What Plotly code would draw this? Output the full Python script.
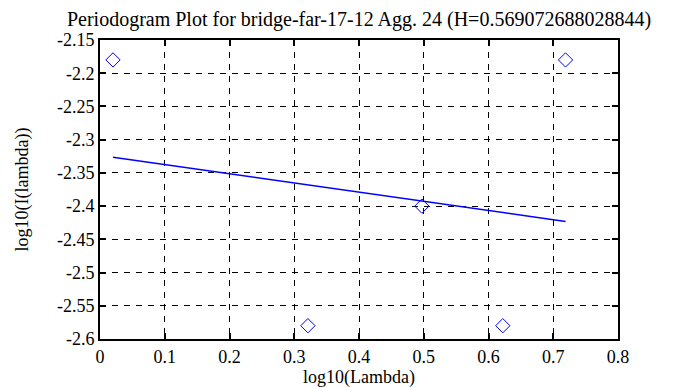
import numpy as np
import plotly.graph_objects as go

# Data
log_lambda = [0.0201, 0.3211, 0.4971, 0.6221, 0.7190]
log_I = [-2.18, -2.58, -2.40, -2.58, -2.18]

x_ticks = [0, 0.1, 0.2, 0.3, 0.4, 0.5, 0.6, 0.7, 0.8]
x_tick_text = ["0", "0.1", "0.2", "0.3", "0.4", "0.5", "0.6", "0.7", "0.8"]
y_ticks = [-2.6, -2.55, -2.5, -2.45, -2.4, -2.35, -2.3, -2.25, -2.2, -2.15]
y_tick_text = ["-2.6", "-2.55", "-2.5", "-2.45", "-2.4", "-2.35", "-2.3", "-2.25", "-2.2", "-2.15"]

title = "Periodogram Plot for bridge-far-17-12 Agg. 24 (H=0.569072688028844)"

# least-squares fit line
slope, intercept = np.polyfit(log_lambda, log_I, 1)
fit_x = [min(log_lambda), max(log_lambda)]
fit_y = [slope * v + intercept for v in fit_x]

FONT = "Times New Roman"

fig = go.Figure()
fig.add_trace(go.Scatter(
    x=log_lambda, y=log_I, mode="markers",
    marker=dict(symbol="diamond-open", size=11, color="#0000ff", line=dict(width=1, color="#0000ff")),
    showlegend=False,
))
fig.add_trace(go.Scatter(
    x=fit_x, y=fit_y, mode="lines",
    line=dict(color="#0000ff", width=1.5),
    showlegend=False,
))

common = dict(
    showline=True, linecolor="black", linewidth=2, mirror="ticks",
    ticks="inside", ticklen=6, tickcolor="black", tickwidth=1.5,
    showgrid=True, gridcolor="black", gridwidth=1.3, griddash="6px,6px",
    zeroline=False, automargin=False,
    tickfont=dict(family=FONT, size=18, color="black"),
)

fig.update_layout(
    width=693, height=387,
    margin=dict(l=92, r=83, t=32, b=56),
    paper_bgcolor="white", plot_bgcolor="white",
    font=dict(family=FONT, size=18, color="black"),
    title=dict(text=title, x=0.5, xref="paper", y=0.99, yref="container",
               yanchor="top", font=dict(family=FONT, size=20, color="black")),
    xaxis=dict(
        range=[0, 0.8], tickvals=x_ticks, ticktext=x_tick_text,
        title=dict(text="log10(Lambda)", standoff=4, font=dict(family=FONT, size=18, color="black")),
        **common,
    ),
    yaxis=dict(
        range=[-2.6, -2.15], tickvals=y_ticks, ticktext=y_tick_text,
        title=dict(text="log10(I(lambda))", standoff=24, font=dict(family=FONT, size=18, color="black")),
        **common,
    ),
)

fig.write_html("out.html")
